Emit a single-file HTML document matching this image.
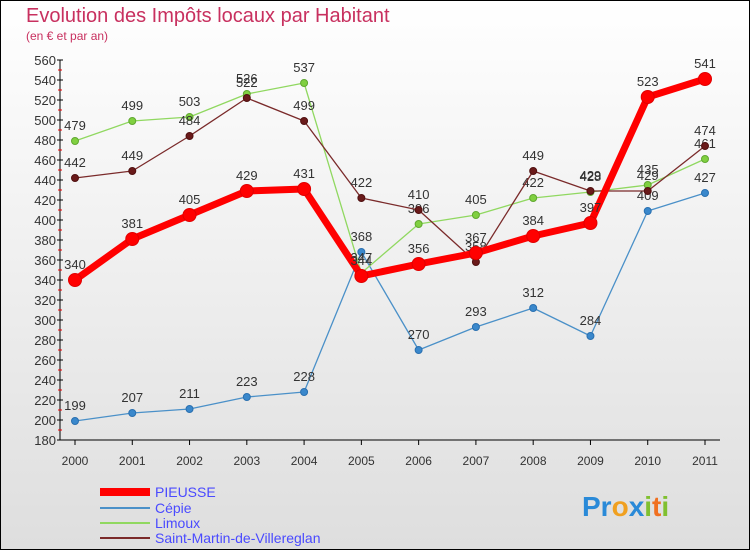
<!DOCTYPE html>
<html><head><meta charset="utf-8"><style>
body{margin:0;}
#c{width:750px;height:550px;position:relative;overflow:hidden;}
svg text{font-family:"Liberation Sans",sans-serif;}
</style></head><body>
<div id="c">
<svg id="s" width="750" height="550" xmlns="http://www.w3.org/2000/svg">
<defs><linearGradient id="bg" x1="0" y1="0" x2="0" y2="1"><stop offset="0" stop-color="#ffffff"/><stop offset="1" stop-color="#dedede"/></linearGradient></defs>
<rect x="0.5" y="0.5" width="749" height="549" fill="url(#bg)" stroke="#000"/>
<text x="26" y="22" font-size="20" fill="#c8305f">Evolution des Impôts locaux par Habitant</text>
<text x="26" y="40" font-size="12" fill="#c8305f">(en € et par an)</text>
<g id="axes"></g><g id="series"></g>
<g>
<line x1="100" y1="492" x2="150" y2="492" stroke="#ff0000" stroke-width="8"/>
<text x="155" y="497" font-size="14" fill="#4a4aff">PIEUSSE</text>
<line x1="100" y1="508" x2="150" y2="508" stroke="#4a90c8" stroke-width="2"/>
<text x="155" y="513" font-size="14" fill="#4a4aff">Cépie</text>
<line x1="100" y1="523" x2="150" y2="523" stroke="#90d860" stroke-width="2"/>
<text x="155" y="528" font-size="14" fill="#4a4aff">Limoux</text>
<line x1="100" y1="538" x2="150" y2="538" stroke="#7a2a2a" stroke-width="2"/>
<text x="155" y="543" font-size="14" fill="#4a4aff">Saint-Martin-de-Villereglan</text>
</g>
<text x="582" y="516" font-size="28" font-weight="bold"><tspan fill="#2a8ad8">Pr</tspan><tspan fill="#f0a020">o</tspan><tspan fill="#2a8ad8">x</tspan><tspan fill="#80c030">i</tspan><tspan fill="#f07020">t</tspan><tspan fill="#80c030">i</tspan></text>
</svg></div>
<script>
const years=["2000","2001","2002","2003","2004","2005","2006","2007","2008","2009","2010","2011"];
const yTicks=[180,200,220,240,260,280,300,320,340,360,380,400,420,440,460,480,500,520,540,560];
const pieusse=[340,381,405,429,431,344,356,367,384,397,523,541];
const cepie=[199,207,211,223,228,368,270,293,312,284,409,427];
const limoux=[479,499,503,526,537,347,396,405,422,428,435,461];
const saintMartin=[442,449,484,522,499,422,410,358,449,429,429,474];
const NS="http://www.w3.org/2000/svg";
function xs(i){return 75+i*(630/11);}
function ys(v){return 620-v;}
function mk(tag,attrs,parent){const e=document.createElementNS(NS,tag);for(const k in attrs)e.setAttribute(k,attrs[k]);parent.appendChild(e);return e;}
const ax=document.getElementById('axes');
const yl=mk('line',{x1:60,y1:60,x2:60,y2:440,stroke:'#000'},ax);


const xl=mk('line',{x1:60,y1:440,x2:720,y2:440,stroke:'#000'},ax);


yTicks.forEach(v=>{
  mk('line',{x1:57,y1:ys(v),x2:63,y2:ys(v),stroke:'#000'},ax);
  if(v<560)mk('line',{x1:58,y1:ys(v+10),x2:62,y2:ys(v+10),stroke:'#e00'},ax);
  const t=mk('text',{x:56,y:ys(v)+5,'font-size':13,'text-anchor':'end',fill:'#333'},ax);
  t.textContent=v;
  
  
});
years.forEach((y,i)=>{
  mk('line',{x1:xs(i),y1:440,x2:xs(i),y2:445,stroke:'#000'},ax);
  const t=mk('text',{x:xs(i),y:465,'font-size':12,'text-anchor':'middle',fill:'#333'},ax);
  t.textContent=y;
  
  
});
const sg=document.getElementById('series');
function draw(data,name,color,w,r,dot,stroke){
  const g=mk('g',{},sg);
  
  
  const p=mk('polyline',{points:data.map((v,i)=>xs(i)+','+ys(v)).join(' '),fill:'none',stroke:color,'stroke-width':w,'stroke-linejoin':'round'},g);
  
  
  data.forEach((v,i)=>{
    const c=mk('circle',{cx:xs(i),cy:ys(v),r:r,fill:dot,stroke:stroke,'stroke-width':1},g);
    
    
    const t=mk('text',{x:xs(i),y:ys(v)-11,'font-size':13,'text-anchor':'middle',fill:'#333'},g);
    t.textContent=v;
    
    
  });
}
draw(cepie,'cepie','#4a90c8',1.3,3.5,'#3a88cc','#2a70b0');
draw(limoux,'limoux','#90d860',1.3,3.5,'#80d040','#60a830');
draw(saintMartin,'saint-martin','#7a2a2a',1.3,3.5,'#6a1a1a','#501010');
draw(pieusse,'pieusse','#ff0000',7,6.5,'#ff0000','#e00000');
</script>
</body></html>
